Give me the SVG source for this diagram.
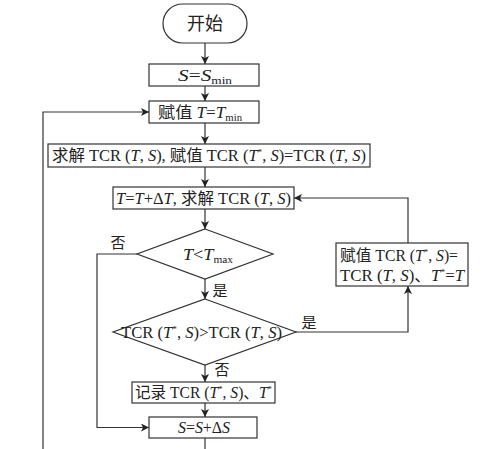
<svg xmlns="http://www.w3.org/2000/svg" width="500" height="449" viewBox="0 0 500 449">
<style>
.box{fill:#fff;stroke:#333;stroke-width:1.2}
.ln{fill:none;stroke:#333;stroke-width:1.2}
text{font-family:"Liberation Serif","Noto Sans CJK SC",serif;font-size:16px;fill:#222}
.c{text-anchor:middle}
.i{font-style:italic}
.sub{font-size:10px}
.sup{font-size:9px}
.lbl{font-size:15px}
</style>
<defs>
<marker id="ah" viewBox="0 0 10 10" refX="10" refY="5" markerWidth="8" markerHeight="8" markerUnits="userSpaceOnUse" orient="auto">
<path d="M0,0 L10,5 L0,10 L2.5,5 Z" fill="#222"/>
</marker>
</defs>
<g id="connectors">
<path class="ln" d="M205,43 V64" marker-end="url(#ah)"/>
<path class="ln" d="M205,86 V101" marker-end="url(#ah)"/>
<path class="ln" d="M205,123 V144" marker-end="url(#ah)"/>
<path class="ln" d="M205,167 V187" marker-end="url(#ah)"/>
<path class="ln" d="M205,209 V229" marker-end="url(#ah)"/>
<path class="ln" d="M205,279 V299" marker-end="url(#ah)"/>
<path class="ln" d="M205,365 V382" marker-end="url(#ah)"/>
<path class="ln" d="M205,403 V417" marker-end="url(#ah)"/>
<path class="ln" d="M205,438 V449"/>
<path class="ln" d="M295,332 H408 V286" marker-end="url(#ah)"/>
<path class="ln" d="M408,243 V198 H294" marker-end="url(#ah)"/>
<path class="ln" d="M137,254 H97 V427.5 H149" marker-end="url(#ah)"/>
<path class="ln" d="M43,449 V112 H149" marker-end="url(#ah)"/>
<text class="lbl" x="118" y="248" text-anchor="middle">否</text>
<text class="lbl" x="220" y="296" text-anchor="middle">是</text>
<text class="lbl" x="309" y="328" text-anchor="middle">是</text>
<text class="lbl" x="222" y="375" text-anchor="middle">否</text>
</g>
<g id="start">
<rect class="box" x="163" y="4" width="84" height="39" rx="19.5" ry="19.5"/>
<text class="c" x="205" y="30" style="font-size:18px">开始</text>
</g>
<g id="initS">
<rect class="box" x="149" y="64" width="110" height="22"/>
<text x="178" y="81" textLength="54" lengthAdjust="spacingAndGlyphs"><tspan class="i">S</tspan>=<tspan class="i">S</tspan><tspan class="sub" dy="3">min</tspan></text>
</g>
<g id="initT">
<rect class="box" x="149" y="101" width="110" height="22"/>
<text x="158" y="118" textLength="84" lengthAdjust="spacingAndGlyphs">赋值 <tspan class="i">T</tspan>=<tspan class="i">T</tspan><tspan class="sub" dy="3">min</tspan></text>
</g>
<g id="solve1">
<rect class="box" x="48" y="144" width="322" height="23"/>
<text x="52" y="161" textLength="314" lengthAdjust="spacingAndGlyphs">求解 TCR (<tspan class="i">T</tspan>, <tspan class="i">S</tspan>), 赋值 TCR (<tspan class="i">T</tspan><tspan class="sup" dy="-6">*</tspan><tspan dy="6">, </tspan><tspan class="i">S</tspan>)=TCR (<tspan class="i">T</tspan>, <tspan class="i">S</tspan>)</text>
</g>
<g id="stepT">
<rect class="box" x="113" y="187" width="181" height="22"/>
<text x="116" y="204" textLength="175" lengthAdjust="spacingAndGlyphs"><tspan class="i">T</tspan>=<tspan class="i">T</tspan>+Δ<tspan class="i">T</tspan>, 求解 TCR (<tspan class="i">T</tspan>, <tspan class="i">S</tspan>)</text>
</g>
<g id="condT">
<polygon class="box" points="205,229 273,254 205,279 137,254"/>
<text x="183" y="260" textLength="50" lengthAdjust="spacingAndGlyphs"><tspan class="i">T</tspan>&lt;<tspan class="i">T</tspan><tspan class="sub" dy="3">max</tspan></text>
</g>
<g id="condTCR">
<polygon class="box" points="205,299 296,332 205,365 113,332"/>
<text x="121" y="338" textLength="161" lengthAdjust="spacingAndGlyphs">TCR (<tspan class="i">T</tspan><tspan class="sup" dy="-6">*</tspan><tspan dy="6">, </tspan><tspan class="i">S</tspan>)&gt;TCR (<tspan class="i">T</tspan>, <tspan class="i">S</tspan>)</text>
</g>
<g id="update">
<rect class="box" x="336" y="243" width="132" height="43"/>
<text x="340" y="261" textLength="118" lengthAdjust="spacingAndGlyphs">赋值 TCR (<tspan class="i">T</tspan><tspan class="sup" dy="-6">*</tspan><tspan dy="6">, </tspan><tspan class="i">S</tspan>)=</text>
<text x="340" y="281" textLength="124" lengthAdjust="spacingAndGlyphs">TCR (<tspan class="i">T</tspan>, <tspan class="i">S</tspan>)、<tspan class="i">T</tspan><tspan class="sup" dy="-6">*</tspan><tspan dy="6">=</tspan><tspan class="i">T</tspan></text>
</g>
<g id="record">
<rect class="box" x="132" y="382" width="143" height="21"/>
<text x="135" y="398" textLength="137" lengthAdjust="spacingAndGlyphs">记录 TCR (<tspan class="i">T</tspan><tspan class="sup" dy="-6">*</tspan><tspan dy="6">, </tspan><tspan class="i">S</tspan>)、<tspan class="i">T</tspan><tspan class="sup" dy="-6">*</tspan></text>
</g>
<g id="stepS">
<rect class="box" x="149" y="417" width="108" height="21"/>
<text x="178" y="433" textLength="52" lengthAdjust="spacingAndGlyphs"><tspan class="i">S</tspan>=<tspan class="i">S</tspan>+Δ<tspan class="i">S</tspan></text>
</g>
</svg>
